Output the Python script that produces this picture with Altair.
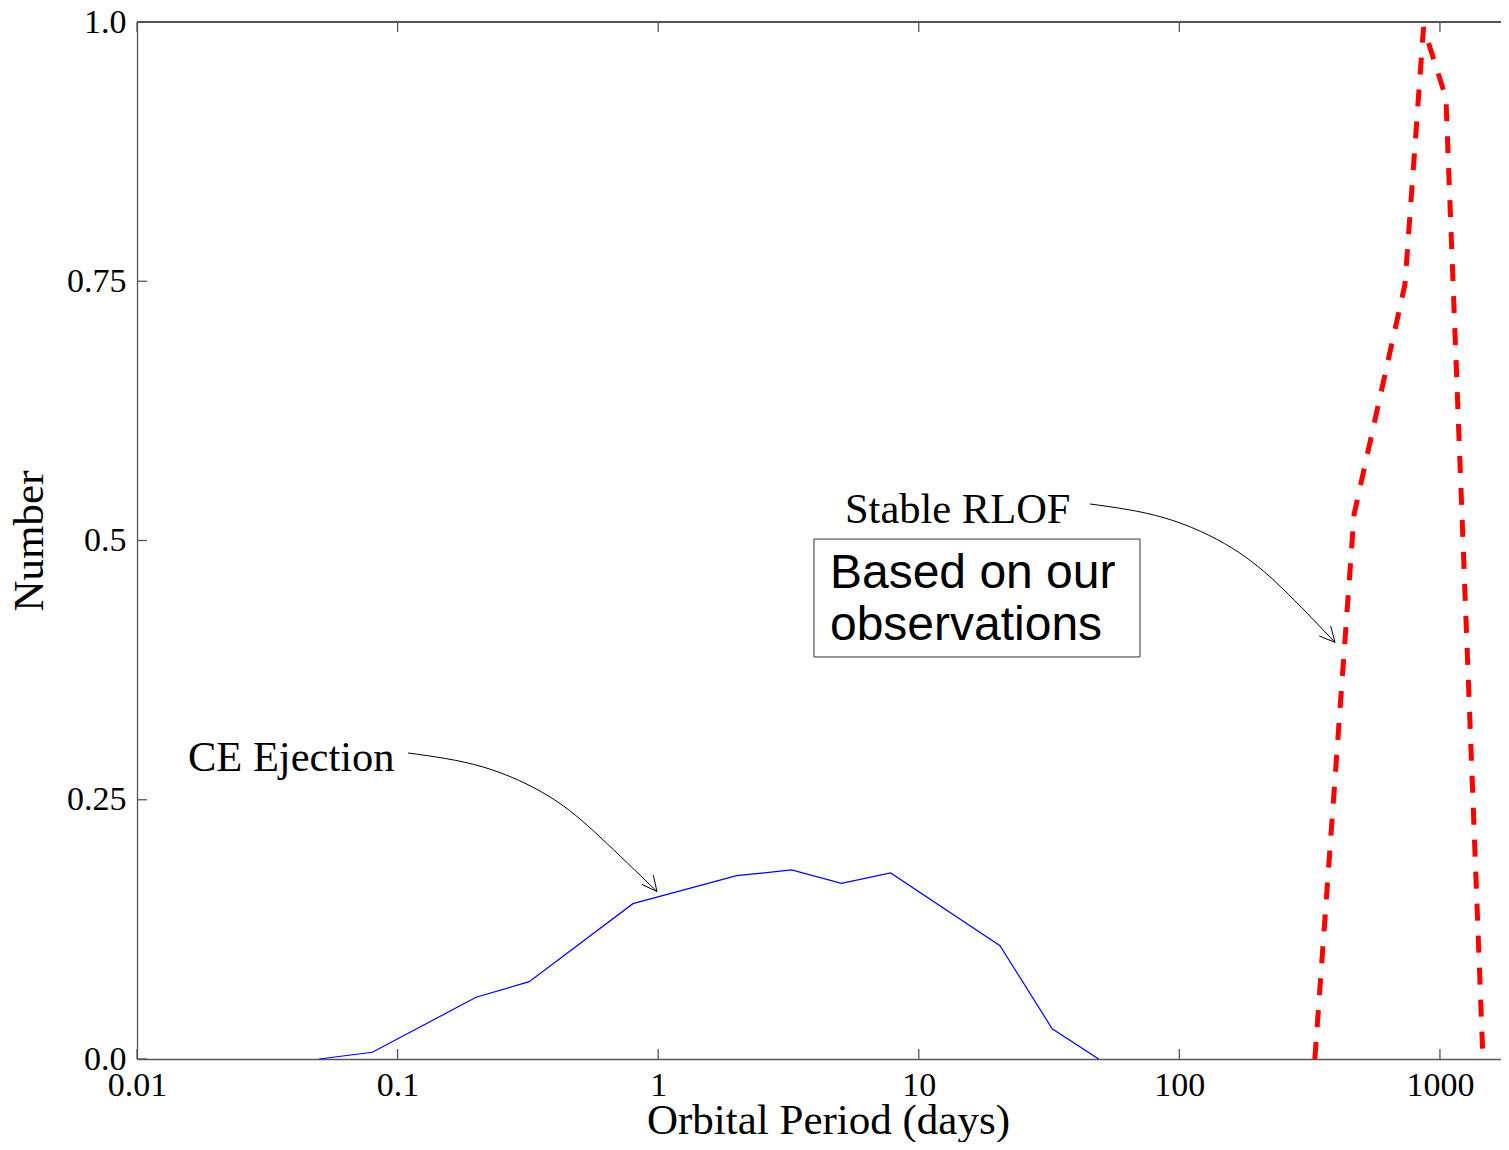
import altair as alt
import pandas as pd

# ---- data ----
ce_period = [0.05, 0.08, 0.2, 0.32, 0.8, 2.0, 3.25, 5.05, 7.8, 20.5, 32.5, 49.0]
ce_number = [0.0, 0.0065, 0.0595, 0.0746, 0.1498, 0.1768, 0.1823, 0.1694, 0.1794, 0.1093, 0.0292, 0.0]

rlof_period = [331.0, 468.0, 734.0, 865.0, 1054.0, 1462.0]
rlof_number = [0.0, 0.525, 0.747, 0.995, 0.927, 0.0]

x_ticks = [0.01, 0.1, 1, 10, 100, 1000]
y_ticks = [0.0, 0.25, 0.5, 0.75, 1.0]

# annotation anchors (data units)
ce_arrow_x = [0.1096, 0.2127, 0.3844, 0.598, 0.9895]
ce_arrow_y = [0.2951, 0.2816, 0.2527, 0.2141, 0.1615]
rlof_arrow_x = [45.4, 88.0, 159.1, 247.5, 395.5]
rlof_arrow_y = [0.5352, 0.5217, 0.4928, 0.4542, 0.4018]
barb_x = [0.9895, 0.9895, 395.5, 395.5]
barb_y = [0.1615, 0.1615, 0.4018, 0.4018]
barb_x2 = [0.8643, 0.9576, 344.2, 380.7]
barb_y2 = [0.1685, 0.1774, 0.4079, 0.4176]

label_text = ["CE Ejection", "Stable RLOF"]
label_x = [0.01569, 5.21]
label_y = [0.2777, 0.5169]

box_lines = ["Based on our", "observations"]
box_line_x = [4.562, 4.562]
box_line_y = [0.4542, 0.4041]
box_x = [3.961]
box_x2 = [70.62]
box_y = [0.5014]
box_y2 = [0.3877]

X_DOMAIN = [0.01, 1715]
W, H = 1364, 1037

serif = "Liberation Serif"
sans = "Liberation Sans"
axis_col = "#555555"

xscale = alt.Scale(type="log", domain=X_DOMAIN, nice=False)
yscale = alt.Scale(domain=[0, 1], nice=False, zero=False)

xaxis = alt.Axis(values=x_ticks, labelExpr="toString(datum.value)", ticks=False,
                 grid=False, domainColor=axis_col, domainWidth=1.3,
                 labelFont=serif, labelFontSize=34, labelColor="black",
                 labelPadding=9, labelFlush=False, labelOverlap=False,
                 title="Orbital Period (days)", titleFont=serif, titleFontSize=43,
                 titleFontWeight="normal", titleColor="black",
                 titleBaseline="alphabetic", titleY=74, titleX=691)
yaxis = alt.Axis(values=y_ticks,
                 labelExpr="datum.value == 0 ? '0.0' : datum.value == 1 ? '1.0' : toString(datum.value)",
                 ticks=False, grid=False, domainColor=axis_col, domainWidth=1.3,
                 labelFont=serif, labelFontSize=34, labelColor="black",
                 labelPadding=11, labelFlush=False, labelOverlap=False,
                 title="Number", titleFont=serif, titleFontSize=43,
                 titleFontWeight="normal", titleColor="black", titlePadding=15)


def X(field):
    return alt.X(field, type="quantitative", scale=xscale, axis=xaxis)


def Y(field):
    return alt.Y(field, type="quantitative", scale=yscale, axis=yaxis)


ce_df = pd.DataFrame({"p": ce_period, "n": ce_number, "i": range(len(ce_period))})
rlof_df = pd.DataFrame({"p": rlof_period, "n": rlof_number, "i": range(len(rlof_period))})

ce_line = alt.Chart(ce_df).mark_line(color="#0000ff", strokeWidth=1.2).encode(
    x=X("p"), y=Y("n"), order="i:Q")
rlof_line = alt.Chart(rlof_df).mark_line(color="#ff0000", strokeWidth=5,
                                          strokeDash=[17, 15]).encode(
    x=X("p"), y=Y("n"), order="i:Q")

# frame ticks (inward)
xt_df = pd.DataFrame({"t": x_ticks})
yt_df = pd.DataFrame({"t": y_ticks})
bottom_ticks = alt.Chart(xt_df).mark_rule(color=axis_col, strokeWidth=1.3).encode(
    x=X("t"), y=alt.value(H), y2=alt.value(H - 10))
top_ticks = alt.Chart(xt_df).mark_rule(color=axis_col, strokeWidth=1.3).encode(
    x=X("t"), y=alt.value(0), y2=alt.value(10))
left_ticks = alt.Chart(yt_df).mark_rule(color=axis_col, strokeWidth=1.3).encode(
    y=Y("t"), x=alt.value(0), x2=alt.value(10))
top_frame = alt.Chart(xt_df).mark_rule(color=axis_col, strokeWidth=1.3).encode(
    x=alt.value(0), x2=alt.value(W), y=alt.value(0))

# annotation arrows
arrow_df = pd.DataFrame({
    "x": ce_arrow_x + rlof_arrow_x,
    "y": ce_arrow_y + rlof_arrow_y,
    "g": ["ce"] * len(ce_arrow_x) + ["rlof"] * len(rlof_arrow_x),
    "i": list(range(len(ce_arrow_x))) + list(range(len(rlof_arrow_x))),
})
arrows = alt.Chart(arrow_df).mark_line(color="black", strokeWidth=1, interpolate="natural").encode(
    x=X("x"), y=Y("y"), detail="g:N", order="i:Q")

barb_df = pd.DataFrame({"x": barb_x, "y": barb_y, "x2": barb_x2, "y2": barb_y2})
barbs = alt.Chart(barb_df).mark_rule(color="black", strokeWidth=1).encode(
    x=X("x"), y=Y("y"), x2="x2", y2="y2")

lab_df = pd.DataFrame({"t": label_text, "x": label_x, "y": label_y})
labels = alt.Chart(lab_df).mark_text(font=serif, fontSize=42.5, align="left",
                                     baseline="alphabetic", color="black").encode(
    x=X("x"), y=Y("y"), text="t:N")

box_df = pd.DataFrame({"x": box_x, "x2": box_x2, "y": box_y, "y2": box_y2})
box = alt.Chart(box_df).mark_rect(fill="white", stroke="#333333", strokeWidth=1).encode(
    x=X("x"), x2="x2", y=Y("y"), y2="y2")

boxtxt_df = pd.DataFrame({"t": box_lines, "x": box_line_x, "y": box_line_y})
box_text = alt.Chart(boxtxt_df).mark_text(font=sans, fontSize=48, align="left",
                                          baseline="alphabetic", color="black").encode(
    x=X("x"), y=Y("y"), text="t:N")

chart = alt.layer(
    ce_line, rlof_line, bottom_ticks, top_ticks, left_ticks, top_frame,
    arrows, barbs, labels, box, box_text,
).properties(
    width=W, height=H,
    autosize=alt.AutoSizeParams(type="none"),
    padding={"left": 129, "top": 14, "right": 0, "bottom": 83},
    background="white",
).configure_view(strokeWidth=0)

chart.save("out.html", embed_options={"renderer": "svg", "actions": False})
